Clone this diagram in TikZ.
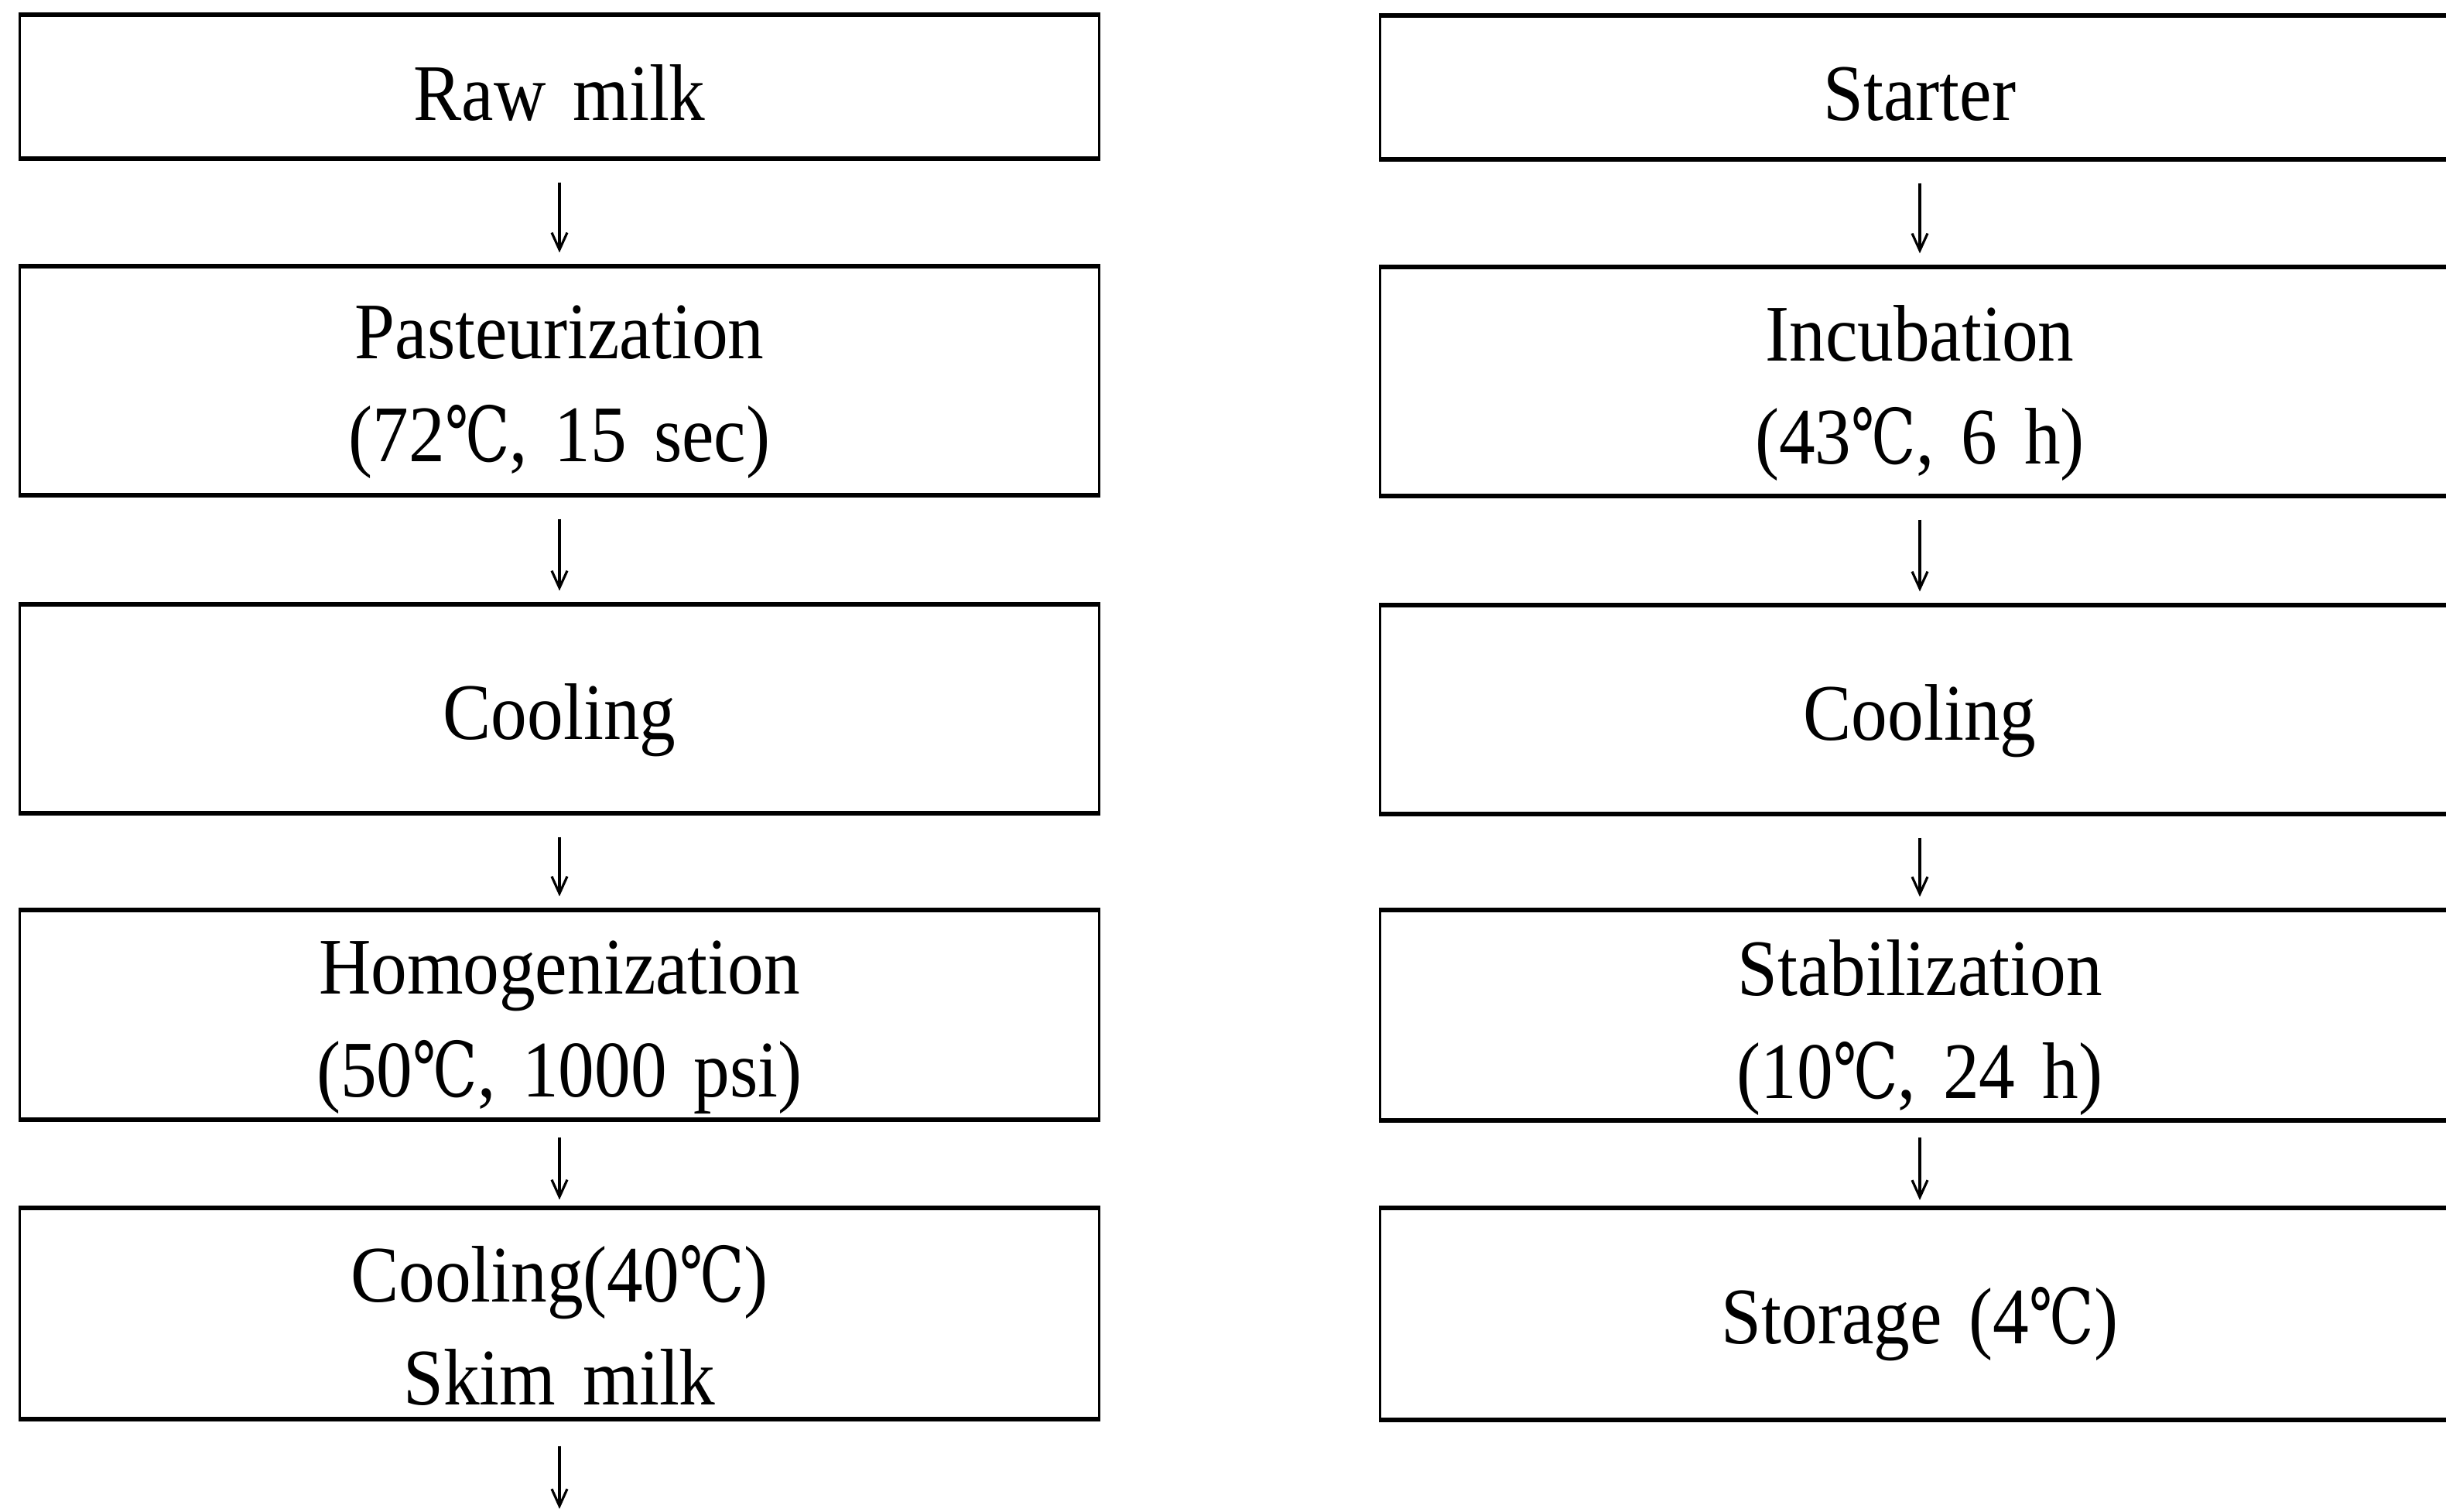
\documentclass[tikz,border=0pt]{standalone}
\usepackage{fontspec}
\setmainfont[FakeStretch=0.9,WordSpace=1.5]{Liberation Serif}
\newfontfamily\degfont[FakeStretch=0.9]{DejaVu Serif}
\usetikzlibrary{arrows.meta}
\newcommand{\dC}{{\degfont\scalebox{0.8}[0.95]{℃}}}
\tikzset{
  stepbox/.style={draw, line width=0.9pt, minimum width=13.95cm, inner sep=0pt},
  steptext/.style={align=center, inner sep=0pt, font=\fontsize{29.5pt}{37.8pt}\selectfont},
  flow/.style={line width=0.9pt, -{Straight Barb[length=0.22cm,width=0.2cm,line width=0.9pt]}},
  rim/.style={line width=1.5pt}
}
\begin{document}
\begin{tikzpicture}
\useasboundingbox (0,0) rectangle (31.61,-19.53);
\clip (0,0) rectangle (31.61,-19.53);

% milk preparation (left column)
\node[stepbox, minimum height=1.84cm] (l1) at (7.23,-1.12)  {};
\node[stepbox, minimum height=2.94cm] (l2) at (7.23,-4.92)  {};
\node[stepbox, minimum height=2.68cm] (l3) at (7.23,-9.16)  {};
\node[stepbox, minimum height=2.69cm] (l4) at (7.23,-13.115) {};
\node[stepbox, minimum height=2.71cm] (l5) at (7.23,-16.975) {};

% fermentation (right column)
\node[stepbox, minimum height=1.84cm] (r1) at (24.81,-1.13)  {};
\node[stepbox, minimum height=2.94cm] (r2) at (24.81,-4.93)  {};
\node[stepbox, minimum height=2.68cm] (r3) at (24.81,-9.17)  {};
\node[stepbox, minimum height=2.69cm] (r4) at (24.81,-13.12) {};
\node[stepbox, minimum height=2.71cm] (r5) at (24.81,-16.98) {};

% step labels, set slightly below the box centres
\node[steptext] (l1t) at ([yshift=-0.08cm]l1.center) {Raw milk};
\node[steptext] (l2t) at ([yshift=-0.15cm]l2.center) {Pasteurization\\(72\dC, 15 sec)};
\node[steptext] (l3t) at ([yshift=-0.15cm]l3.center) {Cooling};
\node[steptext] (l4t) at ([yshift=-0.16cm]l4.center) {Homogenization\\(50\dC, 1000 psi)};
\node[steptext] (l5t) at ([yshift=-0.15cm]l5.center) {Cooling(40\dC)\\Skim milk};
\node[steptext] (r1t) at ([yshift=-0.09cm]r1.center) {Starter};
\node[steptext] (r2t) at ([yshift=-0.15cm]r2.center) {Incubation\\(43\dC, 6 h)};
\node[steptext] (r3t) at ([yshift=-0.15cm]r3.center) {Cooling};
\node[steptext] (r4t) at ([yshift=-0.16cm]r4.center) {Stabilization\\(10\dC, 24 h)};
\node[steptext] (r5t) at ([yshift=-0.13cm]r5.center) {Storage (4\dC)};

% heavier top and bottom rules of the boxes
\foreach \b in {l1,l2,l3,l4,l5,r1,r2,r3,r4,r5}{
  \draw[rim] (\b.north west) -- (\b.north east);
  \draw[rim] (\b.south west) -- (\b.south east);
}

% arrows between steps
\foreach \a/\b in {l1/l2,l2/l3,l3/l4,r1/r2,r2/r3,r3/r4}{
  \draw[flow] ([yshift=-0.3cm]\a.south) -- ([yshift=0.17cm]\b.north);
}
\foreach \a/\b in {l4/l5,r4/r5}{
  \draw[flow] ([yshift=-0.22cm]\a.south) -- ([yshift=0.1cm]\b.north);
}
\coordinate (lend) at (7.23,-19.50);
\draw[flow] ([yshift=-0.34cm]l5.south) -- (lend);
\end{tikzpicture}
\end{document}
